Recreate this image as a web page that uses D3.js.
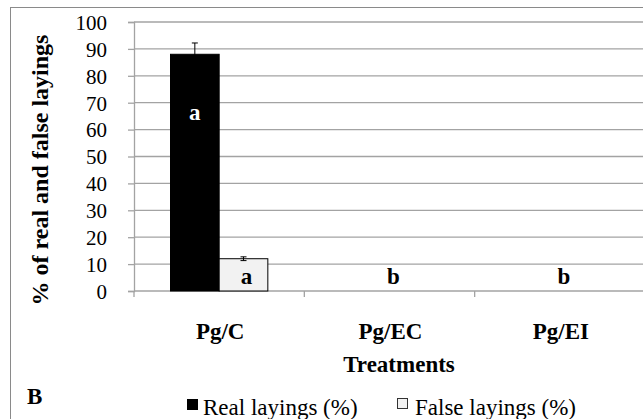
<!DOCTYPE html>
<html>
<head>
<meta charset="utf-8">
<script src="https://cdn.jsdelivr.net/npm/d3@7"></script>
<style>
  html, body { margin: 0; padding: 0; background: #fff; }
  svg { display: block; }
  text { font-family: 'Liberation Serif', 'Times New Roman', serif; }
</style>
</head>
<body>
<div id="chart"></div>
<script>
// data
const treatments = ['Pg/C', 'Pg/EC', 'Pg/EI']
const realLayings = [88, 0, 0]
const realErrors = [4.2, 0, 0]
const falseLayings = [12, 0, 0]
const falseErrors = [0.7, 0, 0]
const realLetters = ['a', '', '']
const falseLetters = ['a', 'b', 'b']
const yTicks = [0, 10, 20, 30, 40, 50, 60, 70, 80, 90, 100]
const seriesNames = ['Real layings (%)', 'False layings (%)']

const width = 643
const height = 419
const plot = {left: 134, right: 645, top: 22, bottom: 291}
const gridColor = '#a3a3a3'
const falseFill = '#f2f2f2'

let svg = d3.select('#chart').append('svg')
  .attr('width', width)
  .attr('height', height)

// outer chart frame, cut off on the right and bottom
svg.append('rect')
  .attr('x', 10.5).attr('y', 7.5)
  .attr('width', 700).attr('height', 500)
  .style('fill', 'none')
  .style('stroke', '#8a8a8a')
  .style('stroke-width', 1)

let x = d3.scaleBand()
  .domain(treatments)
  .range([plot.left, plot.right])
  .paddingInner(0)
  .paddingOuter(0)
let barW = x.bandwidth() / 3.5 // gap width 150%
let y = d3.scaleLinear()
  .domain([0, 100])
  .range([plot.bottom, plot.top])

let addText = function (g, tx, ty, str, size, weight, anchor, rot = 0) {
  return g.append('text')
    .attr('transform', `translate(${tx},${ty}) rotate(${rot})`)
    .attr('text-anchor', anchor)
    .style('font-size', size + 'px')
    .style('font-weight', weight)
    .text(str)
}

// gridlines
svg.append('g')
  .selectAll('line')
  .data(yTicks.filter(d => d > 0))
  .enter()
  .append('line')
  .attr('x1', plot.left).attr('x2', width)
  .attr('y1', d => y(d)).attr('y2', d => y(d))
  .style('stroke', gridColor)
  .style('stroke-width', 1.3)

// y axis
let yAxis = svg.append('g')
  .attr('transform', `translate(${plot.left},0)`)
  .call(d3.axisLeft(y).tickValues(yTicks).tickSize(6).tickPadding(21))
yAxis.select('.domain').style('stroke', gridColor).style('stroke-width', 1.3)
yAxis.selectAll('.tick line').style('stroke', gridColor).style('stroke-width', 1.3)
yAxis.selectAll('.tick text')
  .style('font-family', "'Liberation Serif', serif")
  .style('font-size', '21px')
  .style('fill', '#000')
  .attr('dy', '0.35em')

// x axis
let xAxis = svg.append('g')
  .attr('transform', `translate(0,${plot.bottom})`)
xAxis.append('line')
  .attr('x1', plot.left).attr('x2', width)
  .attr('y1', 0).attr('y2', 0)
  .style('stroke', gridColor).style('stroke-width', 1.3)
xAxis.selectAll('.cattick')
  .data(treatments)
  .enter()
  .append('line')
  .attr('x1', d => x(d)).attr('x2', d => x(d))
  .attr('y1', 0).attr('y2', 6)
  .style('stroke', gridColor).style('stroke-width', 1.3)

// bars
let bars = svg.append('g')
bars.selectAll('.real')
  .data(treatments)
  .enter()
  .append('rect')
  .attr('x', d => x(d) + x.bandwidth() / 2 - barW)
  .attr('y', (d, i) => y(realLayings[i]))
  .attr('width', barW)
  .attr('height', (d, i) => y(0) - y(realLayings[i]))
  .style('fill', '#000')
  .style('stroke', '#000')
  .style('display', (d, i) => realLayings[i] > 0 ? null : 'none')
bars.selectAll('.false')
  .data(treatments)
  .enter()
  .append('rect')
  .attr('x', d => x(d) + x.bandwidth() / 2)
  .attr('y', (d, i) => y(falseLayings[i]))
  .attr('width', barW)
  .attr('height', (d, i) => y(0) - y(falseLayings[i]))
  .style('fill', falseFill)
  .style('stroke', '#000')
  .style('stroke-width', 1)
  .style('display', (d, i) => falseLayings[i] > 0 ? null : 'none')

// error bars
let drawErrors = function (vals, errs, offset) {
  treatments.forEach((t, i) => {
    if (errs[i] <= 0) return
    let cx = x(t) + x.bandwidth() / 2 + offset
    let g = svg.append('g').style('stroke', '#000').style('stroke-width', 1)
    g.append('line').attr('x1', cx).attr('x2', cx)
      .attr('y1', y(vals[i] - errs[i])).attr('y2', y(vals[i] + errs[i]))
    g.append('line').attr('x1', cx - 3).attr('x2', cx + 3)
      .attr('y1', y(vals[i] + errs[i])).attr('y2', y(vals[i] + errs[i]))
    g.append('line').attr('x1', cx - 3).attr('x2', cx + 3)
      .attr('y1', y(vals[i] - errs[i])).attr('y2', y(vals[i] - errs[i]))
  })
}
drawErrors(realLayings, realErrors, -barW / 2)
drawErrors(falseLayings, falseErrors, barW / 2)

// significance letters
treatments.forEach((t, i) => {
  if (realLetters[i]) {
    addText(svg, x(t) + x.bandwidth() / 2 - barW / 2, y(65.5) + 5, realLetters[i], 23, 'bold', 'middle')
      .style('fill', '#fff')
  }
  if (falseLetters[i]) {
    let lx = falseLayings[i] > 0 ? x(t) + x.bandwidth() / 2 + barW / 2 + 3 : x(t) + x.bandwidth() / 2 + 4
    addText(svg, lx, y(5) + 6, falseLetters[i], 23, 'bold', 'middle')
  }
})

// category labels and axis titles
treatments.forEach(t => {
  addText(svg, x(t) + x.bandwidth() / 2 + 1, 339, t, 23, 'bold', 'middle')
})
addText(svg, 399, 372, 'Treatments', 23, 'bold', 'middle')
addText(svg, 48, 170, '% of real and false layings', 24, 'bold', 'middle', -90)
addText(svg, 27, 404, 'B', 23, 'bold', 'start')

// legend
let legend = svg.append('g')
legend.append('rect')
  .attr('x', 187).attr('y', 399).attr('width', 11).attr('height', 11)
  .style('fill', '#000')
addText(legend, 203, 415, seriesNames[0], 23, 'normal', 'start')
legend.append('rect')
  .attr('x', 397.5).attr('y', 398.5).attr('width', 10).attr('height', 10)
  .style('fill', falseFill).style('stroke', '#333')
addText(legend, 415, 415, seriesNames[1], 23, 'normal', 'start')
</script>
</body>
</html>
